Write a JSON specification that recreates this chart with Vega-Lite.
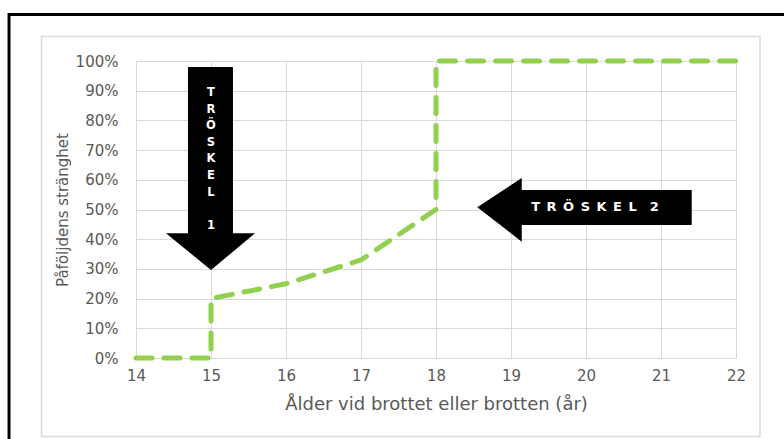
{
  "$schema": "https://vega.github.io/schema/vega-lite/v6.json",
  "width": 600,
  "height": 297,
  "autosize": {"type": "none"},
  "padding": {"left": 136, "top": 61, "right": 48, "bottom": 81},
  "background": "white",
  "config": {
    "view": {"stroke": null},
    "axis": {
      "gridColor": "#d9d9d9",
      "gridWidth": 1,
      "domainColor": "#d9d9d9",
      "ticks": false,
      "labelColor": "#595959",
      "titleColor": "#595959",
      "labelFont": "DejaVu Sans",
      "titleFont": "DejaVu Sans",
      "labelFontSize": 15,
      "titleFontSize": 16,
      "titleFontWeight": "normal",
      "labelOverlap": false
    }
  },
  "datasets": {
    "line": [
      {"step": 1, "x": 14, "y": 0},
      {"step": 2, "x": 15, "y": 0},
      {"step": 3, "x": 15, "y": 0.2},
      {"step": 4, "x": 16, "y": 0.25},
      {"step": 5, "x": 17, "y": 0.33},
      {"step": 6, "x": 18, "y": 0.5},
      {"step": 7, "x": 18, "y": 1},
      {"step": 8, "x": 22, "y": 1}
    ],
    "outerFrame": [{"x": 12.307, "x2": 22.9, "y": 1.1566, "y2": -0.32}],
    "innerFrame": [{"x": 12.74, "x2": 22.32, "y": 1.0825, "y2": -0.2643}],
    "shafts": [
      {"arrow": "1", "x": 14.693, "x2": 15.293, "y": 0.98, "y2": 0.41},
      {"arrow": "2", "x": 19.1, "x2": 21.41, "y": 0.5657, "y2": 0.4478}
    ],
    "heads": [
      {"arrow": "1", "x": 14.4, "y": 0.42, "y2": 0.42},
      {"arrow": "1", "x": 15.0, "y": 0.42, "y2": 0.2963},
      {"arrow": "1", "x": 15.587, "y": 0.42, "y2": 0.42},
      {"arrow": "2", "x": 18.551, "y": 0.5074, "y2": 0.5074},
      {"arrow": "2", "x": 19.143, "y": 0.6061, "y2": 0.3916}
    ],
    "labels": [
      {"arrow": "1", "x": 15.0, "y": 0.8923, "label": "T\nR\nÖ\nS\nK\nE\nL"},
      {"arrow": "1", "x": 15.0, "y": 0.4444, "label": "1"},
      {"arrow": "2", "x": 20.12, "y": 0.5074, "label": "T\u2002R\u2002Ö\u2002S\u2002K\u2002E\u2002L\u2002\u20022"}
    ]
  },
  "encoding": {
    "x": {
      "field": "x", "type": "quantitative",
      "scale": {"domain": [14, 22], "nice": false, "zero": false},
      "axis": {"title": "Ålder vid brottet eller brotten (år)", "format": "d", "values": [14, 15, 16, 17, 18, 19, 20, 21, 22], "tickCount": 20, "labelPadding": 10, "titlePadding": 12, "labelFlush": false, "titleFontSize": 18}
    },
    "y": {
      "field": "y", "type": "quantitative",
      "scale": {"domain": [0, 1], "nice": false, "zero": false},
      "axis": {"title": "Påföljdens stränghet", "format": ".0%", "values": [0, 0.1, 0.2, 0.3, 0.4, 0.5, 0.6, 0.7, 0.8, 0.9, 1], "tickCount": 20, "labelOverlap": false, "labelPadding": 18, "titlePadding": 5, "titleFontSize": 15}
    }
  },
  "layer": [
    {
      "data": {"name": "line"},
      "mark": {"type": "line", "color": "#92d050", "strokeWidth": 5, "strokeDash": [16, 12], "strokeCap": "round", "strokeJoin": "round"},
      "encoding": {
        "order": {"field": "step", "type": "quantitative"}
      }
    },
    {
      "data": {"name": "outerFrame"},
      "mark": {"type": "rect", "fill": "white", "fillOpacity": 0, "stroke": "#000000", "strokeWidth": 3},
      "encoding": {
        "x2": {"field": "x2"},
        "y2": {"field": "y2"}
      }
    },
    {
      "data": {"name": "innerFrame"},
      "mark": {"type": "rect", "fill": "white", "fillOpacity": 0, "stroke": "#d9d9d9", "strokeWidth": 1.5},
      "encoding": {
        "x2": {"field": "x2"},
        "y2": {"field": "y2"}
      }
    },
    {
      "data": {"name": "shafts"},
      "mark": {"type": "rect", "color": "#000000", "cornerRadius": 1},
      "encoding": {
        "x2": {"field": "x2"},
        "y2": {"field": "y2"}
      }
    },
    {
      "data": {"name": "heads"},
      "mark": {"type": "area", "color": "#000000", "orient": "vertical"},
      "encoding": {
        "y2": {"field": "y2"},
        "detail": {"field": "arrow", "type": "nominal"}
      }
    },
    {
      "data": {"name": "labels"},
      "transform": [{"filter": "datum.arrow == '1'"}],
      "mark": {"type": "text", "color": "#ffffff", "font": "DejaVu Sans", "fontWeight": "bold", "fontSize": 11.5, "lineBreak": "\n", "lineHeight": 16.6, "align": "center", "baseline": "middle"},
      "encoding": {
        "text": {"field": "label"}
      }
    },
    {
      "data": {"name": "labels"},
      "transform": [{"filter": "datum.arrow == '2'"}],
      "mark": {"type": "text", "color": "#ffffff", "font": "DejaVu Sans", "fontWeight": "bold", "fontSize": 13, "align": "center", "baseline": "middle"},
      "encoding": {
        "text": {"field": "label"}
      }
    }
  ]
}
